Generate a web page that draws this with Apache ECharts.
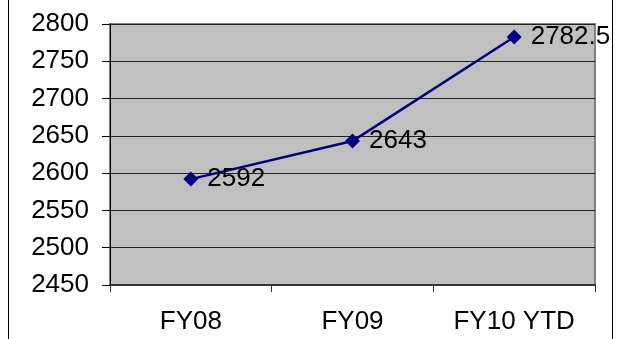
<!DOCTYPE html>
<html>
<head>
<meta charset="utf-8">
<script src="https://cdn.jsdelivr.net/npm/echarts@6/dist/echarts.min.js"></script>
<style>
  html, body { margin: 0; padding: 0; background: #ffffff; }
  #chart { width: 621px; height: 339px; }
</style>
</head>
<body>
<div id="chart"></div>
<script>
// Fiscal-year totals
const categories = ['FY08', 'FY09', 'FY10 YTD'];
const values = [2592, 2643, 2782.5];
const yTicks = [2450, 2500, 2550, 2600, 2650, 2700, 2750, 2800];

const FONT = '"Liberation Sans", Arial, sans-serif';
const chart = echarts.init(document.getElementById('chart'), null, { renderer: 'canvas' });

chart.setOption({
  backgroundColor: '#ffffff',
  animation: false,
  grid: { left: 110, right: 26, top: 24, bottom: 54, show: true,
          backgroundColor: '#c0c0c0', borderColor: '#808080', borderWidth: 2 },
  xAxis: {
    type: 'category',
    data: categories,
    boundaryGap: true,
    axisLine: { lineStyle: { color: '#333333', width: 2 } },
    axisTick: { show: true, alignWithLabel: false, length: 7, inside: false,
                lineStyle: { color: '#333333', width: 1 } },
    axisLabel: { color: '#000000', fontFamily: FONT, fontSize: 26, margin: 24 },
    splitLine: { show: false }
  },
  yAxis: {
    type: 'value',
    min: yTicks[0],
    max: yTicks[yTicks.length - 1],
    interval: yTicks[1] - yTicks[0],
    axisLine: { show: true, lineStyle: { color: '#000000', width: 1 } },
    axisTick: { show: true, length: 8, lineStyle: { color: '#000000', width: 1 } },
    axisLabel: { color: '#000000', fontFamily: FONT, fontSize: 26, margin: 21,
                 formatter: v => String(v) },
    splitLine: { show: true, lineStyle: { color: '#222222', width: 1 } }
  },
  series: [{
    type: 'line',
    data: values,
    symbol: 'diamond',
    symbolSize: 15,
    itemStyle: { color: '#000080' },
    lineStyle: { color: '#000080', width: 2.5 },
    label: {
      show: true,
      position: 'right',
      distance: 9,
      color: '#000000',
      fontFamily: FONT,
      fontSize: 26
    },
    z: 5
  }],
  graphic: [
    { type: 'line', shape: { x1: 8.5, y1: 0, x2: 8.5, y2: 339 },
      style: { stroke: '#000000', lineWidth: 1 } },
    { type: 'line', shape: { x1: 612.5, y1: 0, x2: 612.5, y2: 339 },
      style: { stroke: '#000000', lineWidth: 1 } }
  ]
});
</script>
</body>
</html>
